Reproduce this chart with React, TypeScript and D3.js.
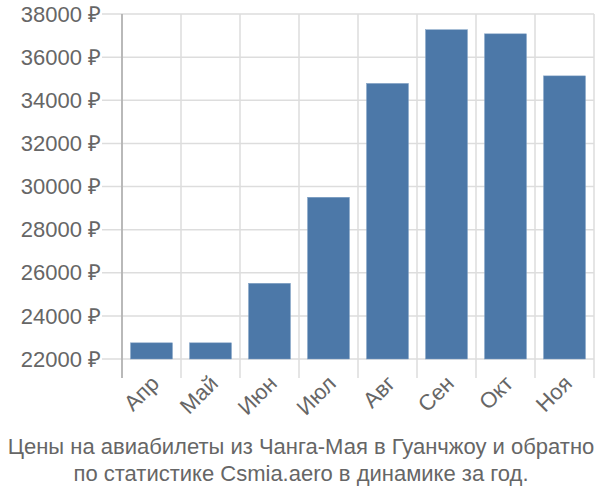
import React from "react";
import * as d3 from "d3";

const months = ["Апр", "Май", "Июн", "Июл", "Авг", "Сен", "Окт", "Ноя"];
const prices = [22750, 22750, 25510, 29500, 34780, 37270, 37080, 35130];
const yTicks = [22000, 24000, 26000, 28000, 30000, 32000, 34000, 36000, 38000];
const titleLines = [
  "Цены на авиабилеты из Чанга-Мая в Гуанчжоу и обратно",
  "по статистике Csmia.aero в динамике за год.",
];

export default function App() {
  const W = 600, H = 500;
  const left = 122, right = 594, top = 14, bottom = 359;
  const x = d3.scaleBand<string>().domain(months).range([left, right]).paddingInner(0.29).paddingOuter(0.145);
  const xg = d3.scaleBand<string>().domain(months).range([left, right]);
  const y = d3.scaleLinear().domain([22000, 38000]).range([bottom, top]);
  const font = "Liberation Sans, Arial, sans-serif";
  return (
    <svg width={W} height={H} style={{ position: "absolute", left: 0, top: 0 }} fontFamily={font}>
      {yTicks.map((t) => (
        <g key={t}>
          <line x1={left - 20} x2={right} y1={y(t)} y2={y(t)} stroke="#dddddd" strokeWidth={1.5} />
          <text x={left - 21} y={y(t)} dy="0.35em" textAnchor="end" fontSize={22} fill="#666">
            {t} ₽
          </text>
        </g>
      ))}
      {months.map((m) => (
        <line key={m} x1={xg(m)!} x2={xg(m)!} y1={top} y2={bottom + 19} stroke="#dddddd" strokeWidth={1.5} />
      ))}
      <line x1={right} x2={right} y1={top} y2={bottom + 19} stroke="#dddddd" strokeWidth={1.5} />
      <line x1={left} x2={left} y1={top} y2={bottom + 19} stroke="#aaaaaa" strokeWidth={1.5} />
      {months.map((m, i) => (
        <rect key={m} x={x(m)!} y={y(prices[i])} width={x.bandwidth()} height={bottom - y(prices[i])}
          fill="#4c78a8" stroke="#7f9fc4" strokeWidth={0.5} />
      ))}
      {months.map((m) => {
        const cx = x(m)! + x.bandwidth() / 2 - 2;
        const cy = bottom + 15;
        return (
          <text key={m} x={cx} y={cy} textAnchor="end" fontSize={22} fill="#666" dy="0.7em"
            transform={`rotate(-45 ${cx} ${cy})`}>
            {m}
          </text>
        );
      })}
      {titleLines.map((l, i) => (
        <text key={i} x={301} y={454 + i * 27} textAnchor="middle" fontSize={22} fill="#666">
          {l}
        </text>
      ))}
    </svg>
  );
}
